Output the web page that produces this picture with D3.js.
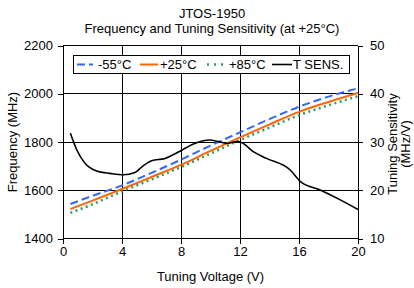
<!DOCTYPE html>
<html><head><meta charset="utf-8">
<script src="https://cdn.jsdelivr.net/npm/d3@7"></script>
<style>body{margin:0;background:#fff}svg{display:block;font-family:"Liberation Sans",Arial,sans-serif}</style>
</head><body>
<svg id="c" width="414" height="288"></svg>
<script>
const voltage = [0.5, 2, 4, 6, 8, 10, 12, 14, 16, 18, 20];
const freqM55 = [1543, 1577, 1620, 1672, 1727, 1785, 1840, 1895, 1946, 1988, 2023];
const freqP25 = [1522, 1557, 1605, 1655, 1705, 1763, 1819, 1873, 1925, 1966, 2003];
const freqP85 = [1506, 1542, 1595, 1645, 1696, 1752, 1808, 1860, 1911, 1952, 1990];
const sensV = [0.5, 0.93, 1.49, 2.28, 3.19, 4.1, 4.88, 5.33, 6.01, 6.92, 7.93, 8.84, 9.97, 10.5, 11.1, 11.8, 12.1, 12.9, 13.8, 15.4, 16.1, 17.4, 18.8, 20];
const sensVal = [31.8, 28.4, 25.6, 24.0, 23.5, 23.2, 23.7, 24.8, 26.1, 26.6, 28.1, 29.6, 30.4, 30.1, 29.7, 30.1, 29.9, 28.0, 26.6, 24.2, 21.8, 20.1, 18.0, 16.0];
const xTicks = [0, 4, 8, 12, 16, 20];
const yTicks = [1400, 1600, 1800, 2000, 2200];
const y2Ticks = [10, 20, 30, 40, 50];
const legendLabels = ["-55°C", "+25°C", "+85°C", "T SENS."];

const svg = d3.select("#c");
const L = 63, R = 358, T = 45.5, B = 238.5;
const x = d3.scaleLinear().domain([0, 20]).range([L, R]);
const y = d3.scaleLinear().domain([1400, 2200]).range([B, T]);
const y2 = d3.scaleLinear().domain([10, 50]).range([B, T]);
const fmt = d3.format("d");

// gridlines
const g = svg.append("g").attr("stroke", "#000").attr("stroke-width", 1).attr("shape-rendering", "crispEdges");
xTicks.forEach(t => g.append("line").attr("x1", x(t)).attr("x2", x(t)).attr("y1", T).attr("y2", B));
yTicks.forEach(t => g.append("line").attr("x1", L).attr("x2", R).attr("y1", y(t)).attr("y2", y(t)));

function style(s) {
  s.select(".domain").remove();
  s.selectAll("text").attr("font-size", 13).attr("font-family", "Liberation Sans, Arial, sans-serif").attr("fill", "#000");
  s.selectAll("line").attr("shape-rendering", "crispEdges");
}
svg.append("g").attr("transform", `translate(0,${B})`)
  .call(d3.axisBottom(x).tickValues(xTicks).tickFormat(fmt).tickSize(5).tickPadding(3)).call(style);
svg.append("g").attr("transform", `translate(${L},0)`)
  .call(d3.axisLeft(y).tickValues(yTicks).tickFormat(fmt).tickSize(5).tickPadding(5)).call(style);
svg.append("g").attr("transform", `translate(${R},0)`)
  .call(d3.axisRight(y2).tickValues(y2Ticks).tickFormat(fmt).tickSize(5).tickPadding(7)).call(style);

// lines
const line = d3.line().x(d => x(d[0])).y(d => y(d[1])).curve(d3.curveMonotoneX);
const line2 = d3.line().x(d => x(d[0])).y(d => y2(d[1])).curve(d3.curveMonotoneX);
const series = [
  {vals: freqM55, color: "#3366FF", dash: "8,4", w: 2},
  {vals: freqP25, color: "#FF6600", dash: null, w: 2},
  {vals: freqP85, color: "#339966", dash: "2,3.5", w: 2.5},
];
series.forEach(s => {
  svg.append("path").datum(voltage.map((v, i) => [v, s.vals[i]]))
    .attr("d", line).attr("fill", "none").attr("stroke", s.color)
    .attr("stroke-width", s.w).attr("stroke-dasharray", s.dash);
});
svg.append("path").datum(sensV.map((v, i) => [v, sensVal[i]]))
  .attr("d", line2).attr("fill", "none").attr("stroke", "#000").attr("stroke-width", 1.6);

// legend
const lg = svg.append("g");
lg.append("rect").attr("x", 73.5).attr("y", 55.5).attr("width", 276).attr("height", 18)
  .attr("fill", "#fff").attr("stroke", "#000").attr("stroke-width", 1);
const legItems = [
  {x1: 77, x2: 93, tx: 98, color: "#3366FF", dash: "8,4", w: 2},
  {x1: 140, x2: 158, tx: 160, color: "#FF6600", dash: null, w: 2},
  {x1: 207, x2: 226, tx: 229, color: "#339966", dash: "2,5", w: 2.5},
  {x1: 272, x2: 292, tx: 293, color: "#000", dash: null, w: 1.6},
];
legItems.forEach((it, i) => {
  lg.append("line").attr("x1", it.x1).attr("x2", it.x2).attr("y1", 64.5).attr("y2", 64.5)
    .attr("stroke", it.color).attr("stroke-width", it.w).attr("stroke-dasharray", it.dash);
  lg.append("text").attr("x", it.tx).attr("y", 69).attr("font-size", 13).text(legendLabels[i]);
});

// titles
svg.append("text").attr("x", 212).attr("y", 18).attr("text-anchor", "middle").attr("font-size", 13).text("JTOS-1950");
svg.append("text").attr("x", 212).attr("y", 33).attr("text-anchor", "middle").attr("font-size", 13).text("Frequency and Tuning Sensitivity (at +25°C)");
svg.append("text").attr("x", (L + R) / 2).attr("y", 281).attr("text-anchor", "middle").attr("font-size", 13).text("Tuning Voltage (V)");
svg.append("text").attr("transform", `translate(17,${(T + B) / 2}) rotate(-90)`).attr("text-anchor", "middle").attr("font-size", 13).text("Frequency (MHz)");
const rt = svg.append("text").attr("transform", `translate(397,${(T + B) / 2 + 2}) rotate(-90)`).attr("text-anchor", "middle").attr("font-size", 13);
rt.append("tspan").attr("x", 0).attr("y", 0).text("Tuning Sensitivity");
rt.append("tspan").attr("x", 0).attr("y", 13).text("(MHz/V)");
</script>
</body></html>
